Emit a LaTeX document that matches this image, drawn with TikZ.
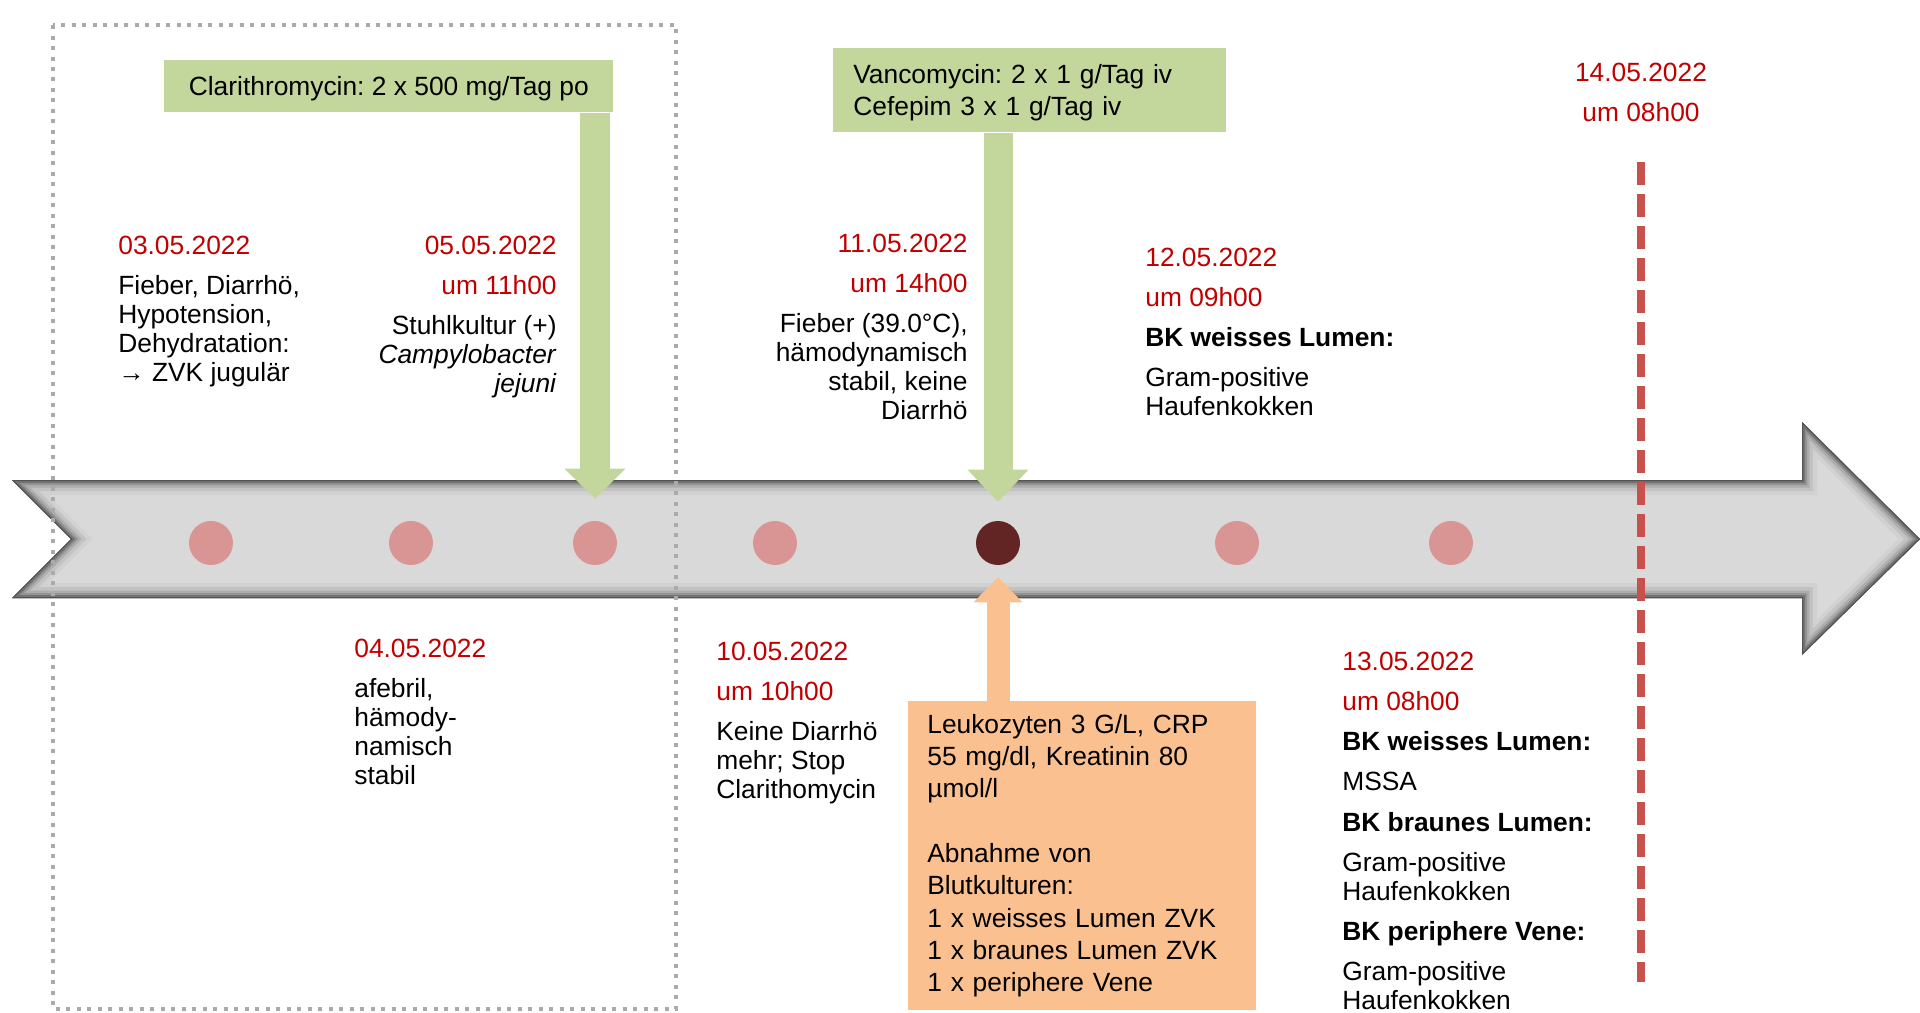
\documentclass[tikz,border=0pt]{standalone}
\usepackage{fontspec}
\setmainfont{Liberation Sans}
\frenchspacing
\usetikzlibrary{arrows.meta,positioning,calc}
\definecolor{datum}{RGB}{192,0,0}
\definecolor{dotlight}{RGB}{217,149,148}
\definecolor{dotdark}{RGB}{99,37,35}
\definecolor{abgreen}{RGB}{195,214,155}
\definecolor{laborange}{RGB}{250,192,144}
\definecolor{tlgray}{RGB}{217,217,217}
\definecolor{markred}{RGB}{200,80,77}
\definecolor{rahmengray}{RGB}{170,170,170}
\newcommand{\dat}[1]{\textcolor{datum}{#1}}
\tikzset{evt/.style={inner sep=0pt,font=\fontsize{15pt}{16.5pt}\selectfont},
  evdot/.style={circle,inner sep=0pt,minimum size=0.88cm,fill=dotlight},
  abbox/.style={fill=abgreen,inner ysep=0pt,font=\fontsize{15pt}{18.4pt}\selectfont},
  labbox/.style={fill=laborange,inner ysep=0pt,align=left,font=\fontsize{15pt}{18.4pt}\selectfont},
  rahmen/.style={draw=rahmengray,line width=0.08cm,dash pattern=on 0.08cm off 0.13cm},
  markline/.style={draw=markred,line width=0.16cm,dash pattern=on 0.46cm off 0.18cm},
  tlshape/.style={insert path={(12,480) -- (1802,480) -- (1802,422) -- (1920,539) -- (1802,655) -- (1802,598) -- (12,598) -- (71,539) -- cycle}}}

\begin{document}
\begin{tikzpicture}[x=0.02cm,y=-0.02cm]
\useasboundingbox (0,0) rectangle (1920,1012);
% Zeitstrahl
\begin{scope}
\clip[tlshape];
\fill[tlgray,tlshape];
\foreach \w/\c in {30/18,22/24,15/32,10/42,6/55,2/68}
  \draw[tlshape,line width=\w*0.02cm,black!\c,line join=miter];
\end{scope}
\draw[rahmen] (53,25) rectangle (676,1009);
\foreach \d/\xx in {03/211,04/411,05/595,10/775,12/1237,13/1451}
  \node[evdot] (t\d) at (\xx,543) {};
\node[evdot,fill=dotdark] (t11) at (998,543) {};
% Ereignisse oben
\node[evt,align=left,anchor=north west] (e03) at (118,236)
  {\dat{03.05.2022}\\[6.3pt]Fieber, Diarrhö,\\Hypotension,\\Dehydratation:\\→ ZVK jugulär};
\node[evt,align=right,anchor=north east] (e05) at (557,236)
  {\dat{05.05.2022}\\[6.3pt]\dat{um 11h00}\\[6.3pt]Stuhlkultur (+)\\\textit{Campylobacter}\\\textit{jejuni}};
\node[evt,align=right,anchor=north east] (e11) at (968,234)
  {\dat{11.05.2022}\\[6.3pt]\dat{um 14h00}\\[6.3pt]Fieber (39.0°C),\\hämodynamisch\\stabil, keine\\Diarrhö};
\node[evt,align=left,anchor=north west] (e12) at (1145,248)
  {\dat{12.05.2022}\\[6.3pt]\dat{um 09h00}\\[6.3pt]\textbf{BK weisses Lumen:}\\[6.3pt]Gram-positive\\Haufenkokken};
\node[evt,align=center,anchor=north] (e14) at (1641,63)
  {\dat{14.05.2022}\\[6.3pt]\dat{um 08h00}};
% Ereignisse unten
\node[evt,align=left,anchor=north west] (e04) at (354,639)
  {\dat{04.05.2022}\\[6.3pt]afebril,\\hämody-\\namisch\\stabil};
\node[evt,align=left,anchor=north west] (e10) at (716,642)
  {\dat{10.05.2022}\\[6.3pt]\dat{um 10h00}\\[6.3pt]Keine Diarrhö\\mehr; Stop\\Clarithomycin};
\node[evt,align=left,anchor=north west] (e13) at (1342,652)
  {\dat{13.05.2022}\\[6.3pt]\dat{um 08h00}\\[6.3pt]\textbf{BK weisses Lumen:}\\[6.3pt]MSSA\\[6.3pt]%
   \textbf{BK braunes Lumen:}\\[6.3pt]Gram-positive\\Haufenkokken\\[6.3pt]%
   \textbf{BK periphere Vene:}\\[6.3pt]Gram-positive\\Haufenkokken};
% Therapie und Labor
\node[abbox,anchor=north west,text depth=0pt,minimum width=8.98cm,minimum height=1.04cm] (clar) at (164,60)
  {Clarithromycin: 2 x 500 mg/Tag po};
\node[abbox,anchor=north west,align=left,text width=7.06cm,text height=0.48cm,inner xsep=0.4cm,minimum height=1.68cm] (vanc) at (833,48)
  {Vancomycin: 2 x 1 g/Tag iv\\Cefepim 3 x 1 g/Tag iv};
\node[labbox,anchor=north west,text width=6.2cm,inner xsep=0.38cm,minimum height=6.18cm] (lab) at (908,701)
  {Leukozyten 3 G/L, CRP\\55 mg/dl, Kreatinin 80\\µmol/l\\[18.4pt]Abnahme von\\Blutkulturen:\\1 x weisses Lumen ZVK\\1 x braunes Lumen ZVK\\1 x periphere Vene};
\draw[abgreen,line width=0.6cm,-{Triangle[length=0.6cm,width=1.22cm,line width=0pt]},shorten >=0.44cm]
  (clar.south -| t05) -- (t05.north);
\draw[abgreen,line width=0.58cm,-{Triangle[length=0.64cm,width=1.22cm,line width=0pt]},shorten >=0.38cm]
  (vanc.south -| t11) -- (t11.north);
\draw[laborange,line width=0.46cm,-{Triangle[length=0.5cm,width=0.98cm,line width=0pt]},shorten >=0.24cm]
  (lab.north -| t11) -- (t11.south);
% 14.05.
\coordinate (m14) at (1641,982);
\draw[markline,shorten <=0.8cm] (e14.south) -- (m14);
\end{tikzpicture}
\end{document}
